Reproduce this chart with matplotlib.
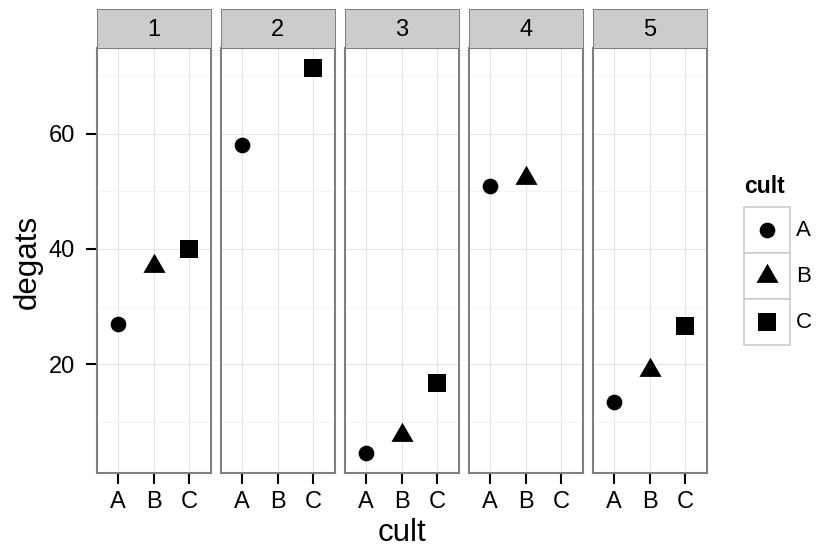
import matplotlib
matplotlib.use("Agg")
import matplotlib.pyplot as plt
from matplotlib.path import Path
from matplotlib.patches import Rectangle

plt.rcParams['font.family'] = ['Liberation Sans', 'DejaVu Sans']

# ---- data -------------------------------------------------------------
facet_levels = ["1", "2", "3", "4", "5"]
cult_levels = ["A", "B", "C"]
bloc = ["1", "1", "1", "2", "2", "3", "3", "3", "4", "4", "5", "5", "5"]
cult = ["A", "B", "C", "A", "C", "A", "B", "C", "A", "B", "A", "B", "C"]
degats = [27.0, 37.1, 40.0, 58.1, 71.5, 4.5, 7.65, 16.8, 50.9, 52.4, 13.4, 19.0, 26.6]
y_major = [20, 40, 60]
y_minor = [10, 30, 50, 70]

# ---- styling ----------------------------------------------------------
W, H = 816, 549
DPI = 100
tri = Path([(0, 1), (-0.866, -0.5), (0.866, -0.5), (0, 1)],
           [Path.MOVETO, Path.LINETO, Path.LINETO, Path.CLOSEPOLY])
shape = {"A": "o", "B": tri, "C": "s"}
msize = {"A": 11.3, "B": 18.4, "C": 12.7}

GRID_MAJ = "#E5E5E5"
GRID_MIN = "#F4F4F4"
BORDER = "#7F7F7F"
STRIP = "#CCCCCC"
TICK_FS = 17
TITLE_FS = 22.5
LEG_TITLE_FS = 16.5
LEG_TEXT_FS = 16


def fig_rect(x, y_top, w, h):
    """pixel box (top-left origin) -> figure fraction rect"""
    return [x / W, 1 - (y_top + h) / H, w / W, h / H]


fig = plt.figure(figsize=(W / DPI, H / DPI), dpi=DPI)

panel_left0 = 96.7
panel_pitch = 124.0
panel_w = 114.0
panel_top = 48.3
panel_bottom = 472.7
strip_top = 9.3

lo, hi = min(degats), max(degats)
pad = 0.05 * (hi - lo)
ylim = (lo - pad, hi + pad)

for i, f in enumerate(facet_levels):
    x0 = panel_left0 + i * panel_pitch
    ax = fig.add_axes(fig_rect(x0, panel_top, panel_w, panel_bottom - panel_top))
    ax.set_xlim(-0.6, len(cult_levels) - 0.4)
    ax.set_ylim(*ylim)
    ax.set_axisbelow(True)
    ax.set_xticks(range(len(cult_levels)))
    ax.set_xticklabels(cult_levels)
    ax.set_yticks(y_major)
    ax.set_yticks(y_minor, minor=True)
    ax.grid(which="major", color=GRID_MAJ, lw=0.8)
    ax.grid(which="minor", axis="y", color=GRID_MIN, lw=0.8)
    ax.tick_params(which="minor", length=0)
    ax.tick_params(axis="x", which="major", length=8, width=1.5, color="black",
                   labelsize=TICK_FS, pad=5.0, labelcolor="black")
    if i == 0:
        ax.tick_params(axis="y", which="major", length=8, width=1.5, color="black",
                       labelsize=TICK_FS, pad=7.5, labelcolor="black")
    else:
        ax.tick_params(axis="y", which="major", length=0, labelleft=False)
    for s in ax.spines.values():
        s.set_color(BORDER)
        s.set_linewidth(1.5)
        s.set_zorder(5)

    for b, c, d in zip(bloc, cult, degats):
        if b != f:
            continue
        ax.plot([cult_levels.index(c)], [d], linestyle="none", marker=shape[c],
                markersize=msize[c], color="black", markeredgewidth=0,
                clip_on=False, zorder=3)

    # facet strip
    sax = fig.add_axes(fig_rect(x0, strip_top, panel_w, panel_top - strip_top))
    sax.set_facecolor(STRIP)
    sax.set_xticks([])
    sax.set_yticks([])
    for s in sax.spines.values():
        s.set_color(BORDER)
        s.set_linewidth(0.7)
    sax.text(0.5, 0.48, f, transform=sax.transAxes, ha="center", va="center",
             fontsize=TICK_FS, color="black")

# axis titles
fig.text(401.7 / W, 1 - 548.0 / H, "cult", ha="center", va="bottom",
         fontsize=TITLE_FS)
fig.text(12.5 / W, 1 - 261.5 / H, "degats", ha="left", va="center",
         rotation=90, fontsize=TITLE_FS)

# legend
key_x, key_top, key_w, key_h = 743.7, 207.3, 46.6, 45.9
lax = fig.add_axes(fig_rect(key_x, key_top, key_w, key_h * len(cult_levels)))
lax.set_xlim(0, 1)
lax.set_ylim(len(cult_levels), 0)
lax.axis("off")
for k, c in enumerate(cult_levels):
    lax.add_patch(Rectangle((0, k), 1, 1, facecolor="white", edgecolor=STRIP,
                            lw=1.2, clip_on=False))
    lax.plot([0.5], [k + 0.5], linestyle="none", marker=shape[c],
             markersize=msize[c], color="black", markeredgewidth=0, clip_on=False)
    lax.text(1.0 + 6.0 / key_w, k + 0.5, c, ha="left", va="center",
             fontsize=LEG_TEXT_FS, color="black")
fig.text(744 / W, 1 - 193.3 / H, "cult", ha="left", va="baseline",
         fontsize=LEG_TITLE_FS, fontweight="bold")

fig.savefig("out.png", dpi=DPI, facecolor="white")
